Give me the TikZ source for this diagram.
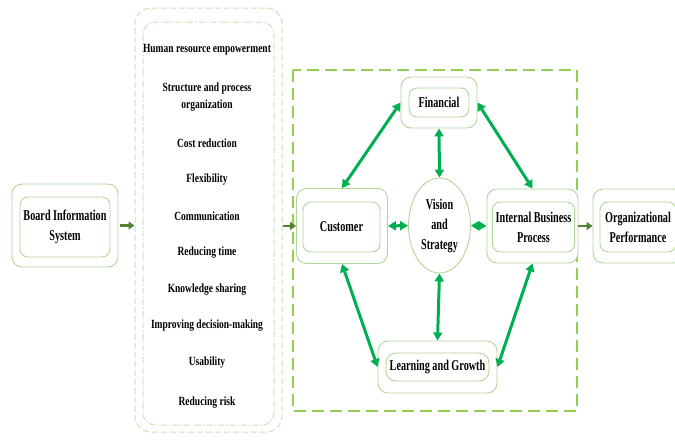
\documentclass[tikz,border=0pt]{standalone}
\usepackage{fontspec}
\setmainfont{Liberation Serif}
\newfontfamily\boxfont{Liberation Serif}[FakeStretch=0.68]
\newfontfamily\listfont{Liberation Serif}[FakeStretch=0.76]
\usetikzlibrary{arrows.meta,shapes.geometric}
\definecolor{boxg}{RGB}{178,214,150}
\definecolor{dashg}{RGB}{146,208,80}
\definecolor{arrg}{RGB}{0,176,80}
\definecolor{olivg}{RGB}{84,130,53}
\definecolor{faintg}{RGB}{200,228,182}
\tikzset{
  outerbox/.style={draw=boxg, line width=0.9pt, rounded corners=10pt, fill=white},
  innerbox/.style={draw=boxg, line width=0.9pt, rounded corners=8pt, align=center,
     font=\boxfont\fontsize{15}{20}\selectfont\bfseries},
  listitem/.style={align=center, font=\listfont\fontsize{12.5}{17}\selectfont\bfseries, inner sep=0pt},
  biarrow/.style={draw=arrg, line width=3pt, {Triangle[length=8pt,width=9pt]}-{Triangle[length=8pt,width=9pt]}},
  flowarrow/.style={draw=olivg, line width=2.5pt, -{Triangle[length=6pt,width=8pt]}},
}
\begin{document}
\begin{tikzpicture}[x=1pt,y=-1pt]
\useasboundingbox (0,0) rectangle (675,440);
\clip (0,0) rectangle (675,440);
% Board Information System
\node[outerbox, minimum width=106pt, minimum height=83pt] (bisO) at (65,225.5) {};
\node[innerbox, minimum width=90pt, minimum height=60pt] (bis) at (65,227) {Board Information\\System};
% list box
\node[draw=faintg, line width=1pt, rounded corners=16pt, dash pattern=on 6pt off 3pt, minimum width=147pt, minimum height=424pt] (listO) at (208.5,220) {};
\node[draw=faintg, line width=1pt, rounded corners=12pt, dash pattern=on 6pt off 2pt on 1.5pt off 2pt, minimum width=131pt, minimum height=403pt] (listI) at (208.5,223.5) {};
\node[listitem] (l1) at (207,50) {Human resource empowerment};
\node[listitem] (l2) at (207,97) {Structure and process\\organization};
\node[listitem] (l3) at (207,143) {Cost reduction};
\node[listitem] (l4) at (207,180) {Flexibility};
\node[listitem] (l5) at (207,216) {Communication};
\node[listitem] (l6) at (207,253) {Reducing time};
\node[listitem] (l7) at (207,290) {Knowledge sharing};
\node[listitem] (l8) at (207,326) {Improving decision-making};
\node[listitem] (l9) at (207,363) {Usability};
\node[listitem] (l10) at (207,403) {Reducing risk};
% big dashed frame
\draw[dashg, line width=2.5pt, dash pattern=on 12pt off 6pt] (293,70) rectangle (577,411);
% Financial
\node[outerbox, minimum width=76pt, minimum height=51pt] (finO) at (439,102.5) {};
\node[innerbox, minimum width=60pt, minimum height=29pt] (fin) at (439,102.5) {Financial};
% Customer
\node[outerbox, minimum width=91pt, minimum height=75pt] (cusO) at (342,226) {};
\node[innerbox, minimum width=77pt, minimum height=50pt] (cus) at (341.5,227) {Customer};
% Vision
\node[draw=boxg, line width=0.9pt, ellipse, minimum width=62pt, minimum height=95pt, align=center,
  inner sep=0pt, font=\boxfont\fontsize{15}{20}\selectfont\bfseries] (vis) at (439.5,225.5) {Vision\\and\\Strategy};
% Internal Business Process
\node[outerbox, minimum width=91pt, minimum height=74pt] (ibpO) at (532.5,226) {};
\node[innerbox, minimum width=77pt, minimum height=50pt] (ibp) at (533.5,227) {Internal Business\\Process};
% Organizational Performance
\node[outerbox, minimum width=91pt, minimum height=74pt] (orgO) at (638.5,226) {};
\node[innerbox, minimum width=76pt, minimum height=50pt] (org) at (638,227) {Organizational\\Performance};
% Learning and Growth
\node[outerbox, minimum width=119pt, minimum height=52pt] (lgO) at (437.5,367) {};
\node[innerbox, minimum width=103pt, minimum height=28pt, rounded corners=10pt] (lg) at (437.5,367) {Learning and Growth};
% flow arrows
\draw[flowarrow, shorten <=2pt] (bisO.east) -- (bisO.east -| listO.west);
\draw[flowarrow] (listO.east |- cusO.west) -- (cusO.west);
\draw[flowarrow] (ibpO.east) -- (orgO.west);
% double arrows
\draw[biarrow] (finO.west) -- (cusO.north);
\draw[biarrow] (finO.south) -- (vis.north);
\draw[biarrow] (finO.east) -- (ibpO.north);
\draw[biarrow] (cusO.east) -- (vis.west);
\draw[biarrow] (vis.east) -- (ibpO.west);
\draw[biarrow] (vis.south) -- (lgO.north);
\draw[biarrow] (cusO.south) -- (lgO.west);
\draw[biarrow] (ibpO.south) -- (lgO.east);
\end{tikzpicture}
\end{document}
